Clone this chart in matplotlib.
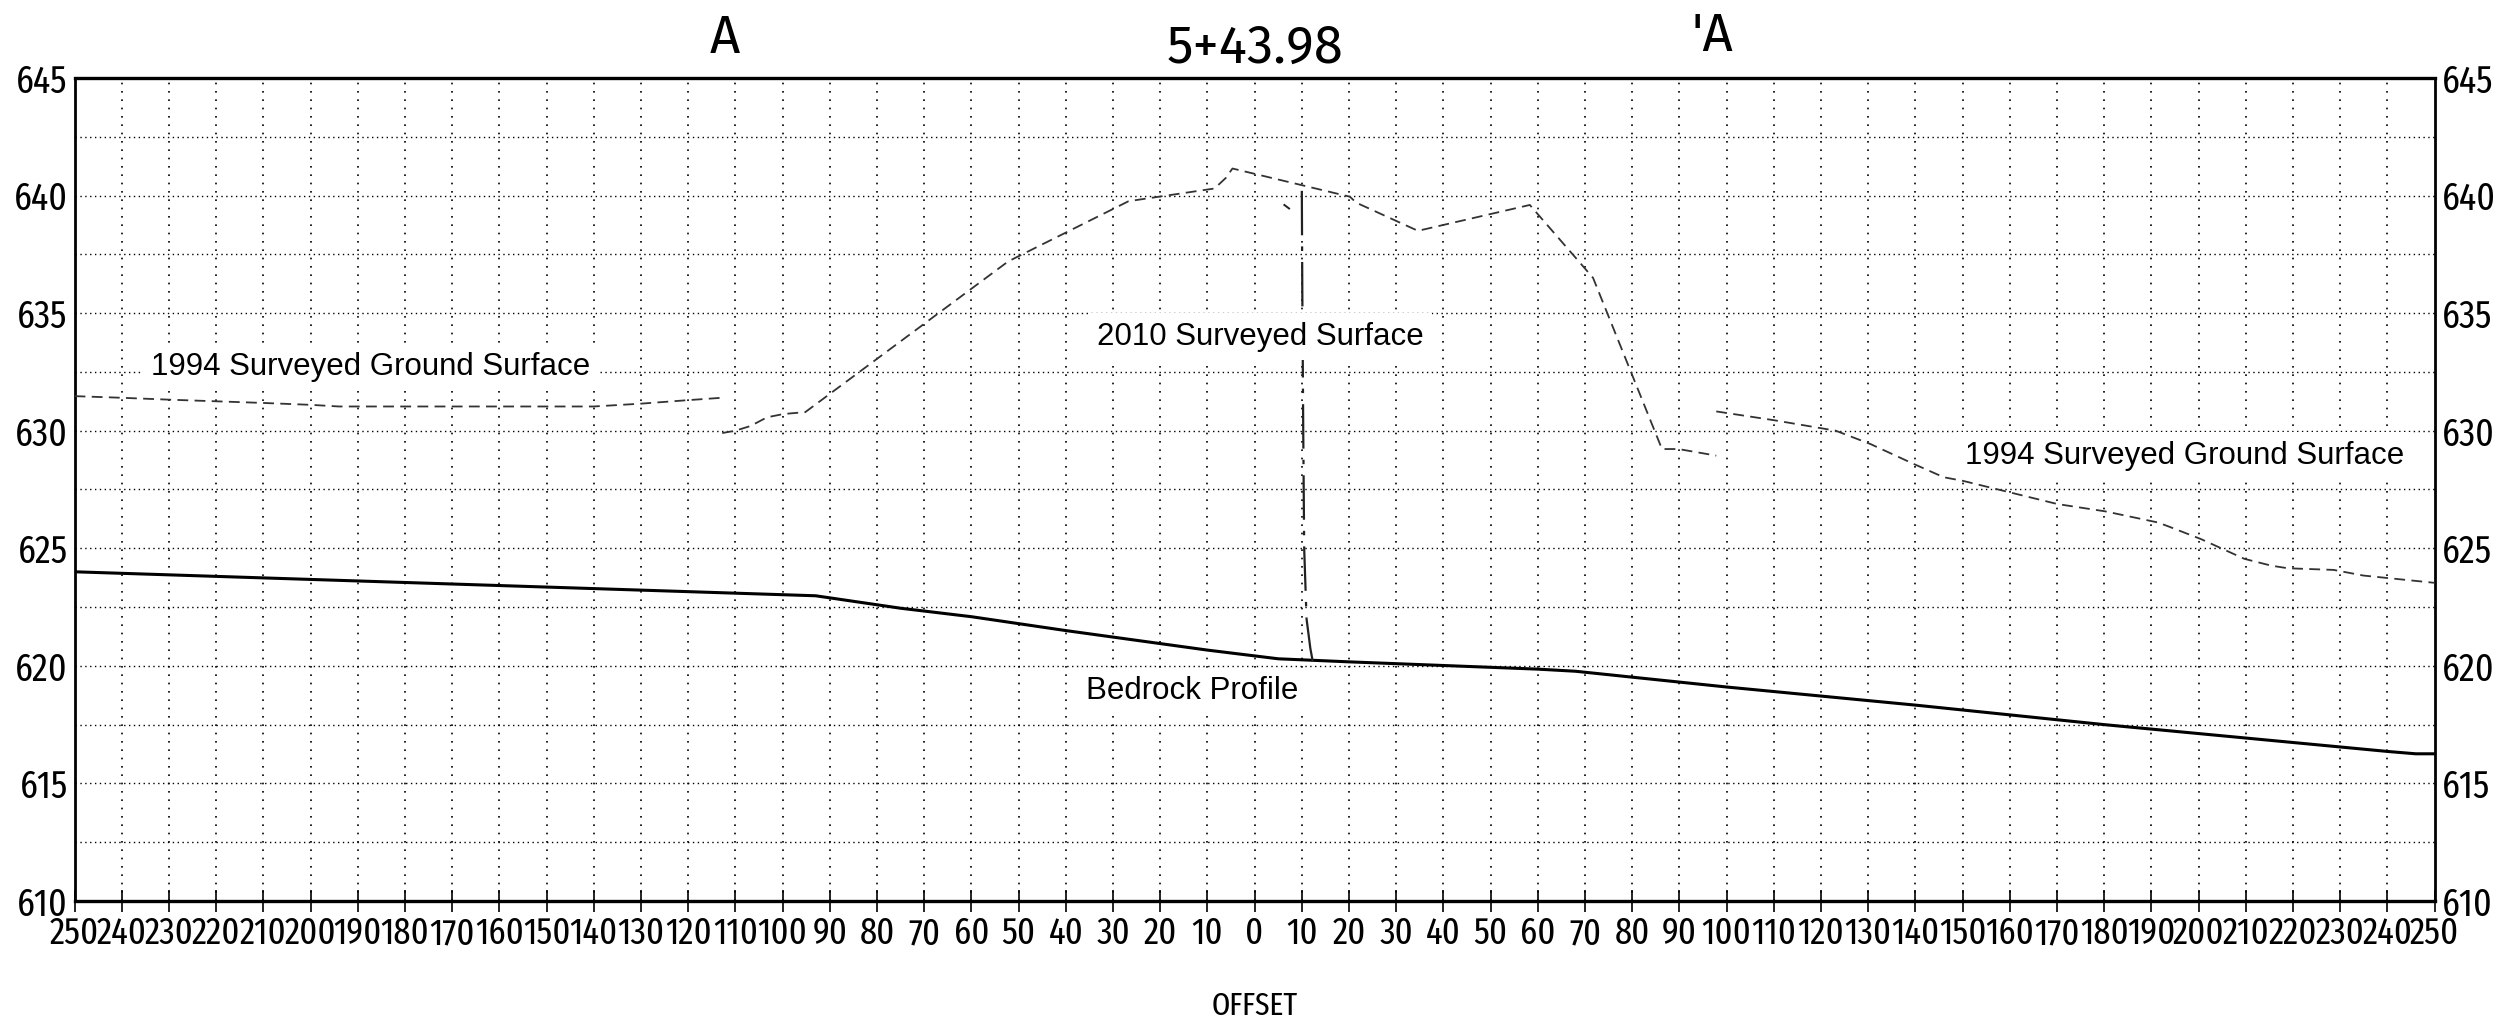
import matplotlib
matplotlib.use("Agg")
import matplotlib.pyplot as plt
import matplotlib.transforms as mtransforms

# cross section 5+43.98, offsets in ft (left of centreline negative), elevations in ft
ground_1994_left_x = [-250, -240, -230, -220, -210, -200, -194, -190, -140, -130, -120, -112.9]
ground_1994_left_y = [631.47, 631.4, 631.32, 631.25, 631.18, 631.1, 631.03, 631.03, 631.03, 631.15, 631.3, 631.4]

ground_1994_right_x = [97.8, 109.9, 120.2, 123.1, 130.5, 139.7, 146.0, 150, 170.1, 180.2, 191.3, 193.6,
                       200.5, 209.7, 215.4, 218.9, 228.6, 234.9, 250]
ground_1994_right_y = [630.82, 630.45, 630.1, 630.0, 629.43, 628.58, 628.02, 627.87, 626.88, 626.57, 626.1, 625.93,
                       625.39, 624.55, 624.26, 624.15, 624.08, 623.84, 623.53]

surface_2010_x = [-112.8, -110, -106.8, -103.3, -99.8, -95.2, -52.2, -26.7, -8.5, -6.1, -4.7, 20.2, 21.5,
                  34.6, 58.3, 71.7, 86.3, 89.8, 97.8]
surface_2010_y = [629.9, 630.0, 630.2, 630.57, 630.71, 630.79, 637.2, 639.76, 640.3, 640.75, 641.15, 639.95, 639.7,
                  638.5, 639.6, 636.5, 629.22, 629.22, 628.94]

bedrock_x = [-250, -93, -75, -60, -40, -10, 5, 20, 60, 68, 100, 140, 180, 210, 240, 246, 250]
bedrock_y = [624.0, 622.98, 622.45, 622.09, 621.5, 620.67, 620.3, 620.17, 619.86, 619.77, 619.1, 618.33,
             617.5, 616.93, 616.36, 616.26, 616.26]

# vertical cut line near offset 10 right
cut_x = [10.0, 10.1, 10.3, 10.5, 11.0, 11.8, 12.3]
cut_y = [640.2, 636.0, 630.0, 625.0, 622.0, 620.75, 620.2]
cut_hook_x = [6.3, 7.3]
cut_hook_y = [639.6, 639.45]

offset_ticks = list(range(-250, 251, 10))
offset_labels = [str(abs(v)) for v in offset_ticks]
elev_ticks = [610, 615, 620, 625, 630, 635, 640, 645]
elev_labels = [str(v) for v in elev_ticks]
elev_grid = [612.5, 615, 617.5, 620, 622.5, 625, 627.5, 630, 632.5, 635, 637.5, 640, 642.5]

narrow = ['Fira Sans Extra Condensed', 'DejaVu Sans']
wide = ['Fira Sans', 'DejaVu Sans']
plain = ['Liberation Sans', 'DejaVu Sans']

fig = plt.figure(figsize=(25.11, 10.22), dpi=100)
ax = fig.add_axes([0.0297, 0.1184, 0.9399, 0.8053])

# dotted drafting grid
for gx in offset_ticks[1:-1]:
    ax.axvline(gx, color='black', lw=1.2, ls=(0, (1, 4)), zorder=1)
for gy in elev_grid:
    ax.axhline(gy, color='black', lw=1.0, ls=(0, (1, 2.5)), zorder=1)

dash = (0, (6, 3.5))
ax.plot(ground_1994_left_x, ground_1994_left_y, color='#333333', lw=1.3, ls=dash, zorder=3)
ax.plot(ground_1994_right_x, ground_1994_right_y, color='#333333', lw=1.3, ls=dash, zorder=3)
ax.plot(surface_2010_x, surface_2010_y, color='#333333', lw=1.3, ls=dash, zorder=3)
ax.plot(bedrock_x, bedrock_y, color='black', lw=2.2, zorder=3)
ax.plot(cut_x, cut_y, color='#222222', lw=1.6, ls=(0, (20, 5, 2, 5)), zorder=3)
ax.plot(cut_hook_x, cut_hook_y, color='#222222', lw=1.4, zorder=3)

box = dict(facecolor='white', edgecolor='none', pad=6)
ax.text(-233.8, 632.7, '1994 Surveyed Ground Surface', fontsize=22.5, family=plain,
        ha='left', va='center', bbox=box, zorder=4)
ax.text(-33.4, 634.0, '2010 Surveyed Surface', fontsize=22.5, family=plain,
        ha='left', va='center', bbox=box, zorder=4)
ax.text(150.6, 628.94, '1994 Surveyed Ground Surface', fontsize=22.5, family=plain,
        ha='left', va='center', bbox=box, zorder=4)
ax.text(-35.8, 618.92, 'Bedrock Profile', fontsize=22.5, family=plain,
        ha='left', va='center', bbox=box, zorder=4)

ax.set_xlim(-250, 250)
ax.set_ylim(610, 645)

ax.set_xticks(offset_ticks)
ax.set_xticklabels(offset_labels, family=narrow, fontsize=27)
ax.set_yticks(elev_ticks)
ax.set_yticklabels(elev_labels, family=narrow, fontsize=28)
ax.tick_params(axis='x', direction='inout', length=16, width=1.2, pad=3)
ax.tick_params(axis='y', length=0, pad=5, labelright=True)
for t in ax.yaxis.get_major_ticks():
    t.label2.set_family(narrow)
    t.label2.set_fontsize(28)

for side in ['top', 'bottom']:
    ax.spines[side].set_linewidth(2.4)
for side in ['left', 'right']:
    ax.spines[side].set_linewidth(2.0)

trans = mtransforms.blended_transform_factory(ax.transData, ax.transAxes)
ax.text(-112.3, 1.048, 'A', transform=trans, ha='center', va='center', fontsize=38,
        family=wide)
ax.text(0, 1.035, '5+43.98', transform=trans, ha='center', va='center', fontsize=38,
        family=wide)
ax.text(97, 1.051, "'A", transform=trans, ha='center', va='center', fontsize=38,
        family=wide)
ax.text(0, -0.128, 'OFFSET', transform=trans, ha='center', va='center', fontsize=23,
        family=narrow)

fig.savefig('out.png', dpi=100, facecolor='white')
